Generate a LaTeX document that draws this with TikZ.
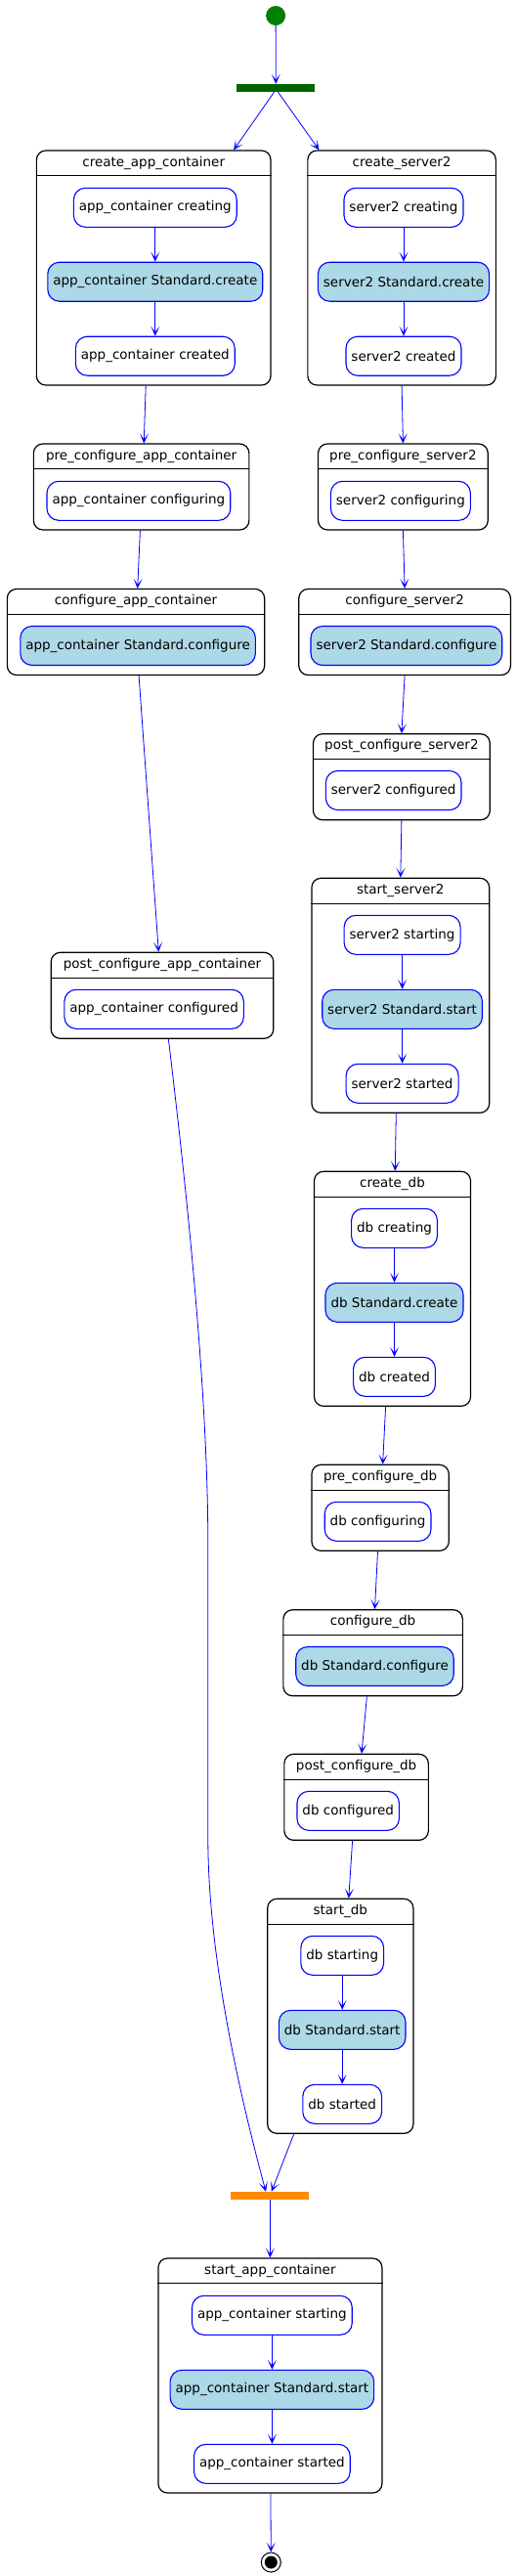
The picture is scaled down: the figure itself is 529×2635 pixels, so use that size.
\documentclass[tikz,border=0pt]{standalone}
\usepackage{fontspec}
\setmainfont{DejaVu Sans}
\usepackage{xcolor}
\usepackage{tikz}
\usetikzlibrary{arrows.meta}
\definecolor{actfill}{HTML}{ADD8E6}
\definecolor{flowblue}{HTML}{0000FF}
\definecolor{startgreen}{HTML}{008000}
\definecolor{forkgreen}{HTML}{006400}
\definecolor{joinorange}{HTML}{FF8C00}

\begin{document}
\begin{tikzpicture}[x=1pt,y=-1pt,>={Stealth[length=10pt,width=9pt,inset=6pt]},line join=round,
  font=\fontsize{13.5}{16}\selectfont,
  group/.style={draw=black,line width=1.2pt,rounded corners=9.5pt,fill=white,inner sep=0pt},
  grouptitle/.style={anchor=north,minimum height=26pt,inner sep=0pt},
  groupline/.style={draw=black,line width=1.2pt},
  act/.style={draw=flowblue,line width=1.1pt,rounded corners=12pt,fill=white,minimum height=40pt,inner xsep=5.5pt,inner ysep=0pt},
  stdact/.style={act,fill=actfill},
  flow/.style={->,draw=flowblue,line width=0.8pt},
  bar/.style={minimum width=80pt,minimum height=8pt,inner sep=0pt}]
  \useasboundingbox (0,0) rectangle (529,2635);
  \node[circle,fill=startgreen,minimum size=20pt,inner sep=0pt] (START) at (282.1,16) {};
  \node[bar,fill=forkgreen] (FORK) at (282.3,90) {};
  \node[bar,fill=joinorange] (JOIN) at (276.4,2246) {};
  \node[circle,draw=black,line width=1pt,fill=white,minimum size=20pt,inner sep=0pt] (STOP) at (277.3,2621) {};
  \node[circle,fill=black,minimum size=13pt,inner sep=0pt] (STOPIN) at (STOP) {};

  \node[group,minimum width=239.7pt,minimum height=240pt] (CAC) at (157.2,274) {};
  \node[group,minimum width=192.5pt,minimum height=240pt] (CS2) at (411.1,274) {};
  \node[group,minimum width=220.5pt,minimum height=88pt] (PCAC) at (144.6,498) {};
  \node[group,minimum width=173.7pt,minimum height=88pt] (PCS2) at (412.4,498) {};
  \node[group,minimum width=263.3pt,minimum height=88pt] (CFAC) at (139.0,646.5) {};
  \node[group,minimum width=216.7pt,minimum height=88pt] (CFS2) at (414.1,646.5) {};
  \node[group,minimum width=180.8pt,minimum height=88pt] (POCS2) at (410.9,794.7) {};
  \node[group,minimum width=227.6pt,minimum height=88pt] (POCAC) at (166.0,1018.3) {};
  \node[group,minimum width=181.8pt,minimum height=240pt] (SS2) at (409.8,1018.3) {};
  \node[group,minimum width=160pt,minimum height=240pt] (CDB) at (401.5,1318.3) {};
  \node[group,minimum width=140.4pt,minimum height=88pt] (PCDB) at (389.1,1542.3) {};
  \node[group,minimum width=183.5pt,minimum height=88pt] (CFDB) at (381.6,1690.7) {};
  \node[group,minimum width=147.5pt,minimum height=88pt] (PODB) at (364.6,1838.3) {};
  \node[group,minimum width=149.2pt,minimum height=240pt] (SDB) at (348.3,2062.3) {};
  \node[group,minimum width=229pt,minimum height=240pt] (SAC) at (276.4,2430) {};

  \node[grouptitle] (CACt) at (CAC.north) {create\_app\_container};
  \node[grouptitle] (CS2t) at (CS2.north) {create\_server2};
  \node[grouptitle] (PCACt) at (PCAC.north) {pre\_configure\_app\_container};
  \node[grouptitle] (PCS2t) at (PCS2.north) {pre\_configure\_server2};
  \node[grouptitle] (CFACt) at (CFAC.north) {configure\_app\_container};
  \node[grouptitle] (CFS2t) at (CFS2.north) {configure\_server2};
  \node[grouptitle] (POCS2t) at (POCS2.north) {post\_configure\_server2};
  \node[grouptitle] (POCACt) at (POCAC.north) {post\_configure\_app\_container};
  \node[grouptitle] (SS2t) at (SS2.north) {start\_server2};
  \node[grouptitle] (CDBt) at (CDB.north) {create\_db};
  \node[grouptitle] (PCDBt) at (PCDB.north) {pre\_configure\_db};
  \node[grouptitle] (CFDBt) at (CFDB.north) {configure\_db};
  \node[grouptitle] (PODBt) at (PODB.north) {post\_configure\_db};
  \node[grouptitle] (SDBt) at (SDB.north) {start\_db};
  \node[grouptitle] (SACt) at (SAC.north) {start\_app\_container};

  \draw[groupline] (CAC.west |- CACt.south) -- (CAC.east |- CACt.south);
  \draw[groupline] (CS2.west |- CS2t.south) -- (CS2.east |- CS2t.south);
  \draw[groupline] (PCAC.west |- PCACt.south) -- (PCAC.east |- PCACt.south);
  \draw[groupline] (PCS2.west |- PCS2t.south) -- (PCS2.east |- PCS2t.south);
  \draw[groupline] (CFAC.west |- CFACt.south) -- (CFAC.east |- CFACt.south);
  \draw[groupline] (CFS2.west |- CFS2t.south) -- (CFS2.east |- CFS2t.south);
  \draw[groupline] (POCS2.west |- POCS2t.south) -- (POCS2.east |- POCS2t.south);
  \draw[groupline] (POCAC.west |- POCACt.south) -- (POCAC.east |- POCACt.south);
  \draw[groupline] (SS2.west |- SS2t.south) -- (SS2.east |- SS2t.south);
  \draw[groupline] (CDB.west |- CDBt.south) -- (CDB.east |- CDBt.south);
  \draw[groupline] (PCDB.west |- PCDBt.south) -- (PCDB.east |- PCDBt.south);
  \draw[groupline] (CFDB.west |- CFDBt.south) -- (CFDB.east |- CFDBt.south);
  \draw[groupline] (PODB.west |- PODBt.south) -- (PODB.east |- PODBt.south);
  \draw[groupline] (SDB.west |- SDBt.south) -- (SDB.east |- SDBt.south);
  \draw[groupline] (SAC.west |- SACt.south) -- (SAC.east |- SACt.south);

  \node[act] (CAC1) at (158.8,212.3) {app\_container creating};
  \node[stdact] (CAC2) at (158.8,288.2) {app\_container Standard.create};
  \node[act] (CAC3) at (158.8,364.2) {app\_container created};
  \node[act] (CS21) at (413,212.3) {server2 creating};
  \node[stdact] (CS22) at (413,288.2) {server2 Standard.create};
  \node[act] (CS23) at (413,364.2) {server2 created};
  \node[act] (PCAC1) at (141.9,512.3) {app\_container configuring};
  \node[act] (PCS21) at (409.9,512.3) {server2 configuring};
  \node[stdact] (CFAC1) at (141.1,660.5) {app\_container Standard.configure};
  \node[stdact] (CFS21) at (415.9,660.5) {server2 Standard.configure};
  \node[act] (POCS21) at (402.7,808.5) {server2 configured};
  \node[act] (POCAC1) at (157.6,1032.3) {app\_container configured};
  \node[act] (SS21) at (411.6,956.3) {server2 starting};
  \node[stdact] (SS22) at (411.6,1032.3) {server2 Standard.start};
  \node[act] (SS23) at (411.6,1108.3) {server2 started};
  \node[act] (CDB1) at (403.5,1256.3) {db creating};
  \node[stdact] (CDB2) at (403.5,1332.3) {db Standard.create};
  \node[act] (CDB3) at (403.5,1408.3) {db created};
  \node[act] (PCDB1) at (386.6,1556.3) {db configuring};
  \node[stdact] (CFDB1) at (383.5,1704.5) {db Standard.configure};
  \node[act] (PODB1) at (356.2,1852.3) {db configured};
  \node[act] (SDB1) at (350.2,2000.3) {db starting};
  \node[stdact] (SDB2) at (350.2,2076.3) {db Standard.start};
  \node[act] (SDB3) at (350.2,2152.3) {db started};
  \node[act] (SAC1) at (278.4,2368.3) {app\_container starting};
  \node[stdact] (SAC2) at (278.4,2444.3) {app\_container Standard.start};
  \node[act] (SAC3) at (278.4,2520.3) {app\_container started};

  \draw[flow] (CAC1) -- (CAC2);
  \draw[flow] (CAC2) -- (CAC3);
  \draw[flow] (CS21) -- (CS22);
  \draw[flow] (CS22) -- (CS23);
  \draw[flow] (SS21) -- (SS22);
  \draw[flow] (SS22) -- (SS23);
  \draw[flow] (CDB1) -- (CDB2);
  \draw[flow] (CDB2) -- (CDB3);
  \draw[flow] (SDB1) -- (SDB2);
  \draw[flow] (SDB2) -- (SDB3);
  \draw[flow] (SAC1) -- (SAC2);
  \draw[flow] (SAC2) -- (SAC3);

  \draw[flow] (START) -- (FORK);
  \draw[flow] ([xshift=-1.8pt]FORK.south) -- ([xshift=81.9pt]CAC.north);
  \draw[flow] ([xshift=2.2pt]FORK.south) -- ([xshift=-84.6pt]CS2.north);
  \draw[flow] ([xshift=-8pt]CAC.south) -- ([xshift=2.6pt]PCAC.north);
  \draw[flow] ([xshift=-1.2pt]PCAC.south) -- ([xshift=1.7pt]CFAC.north);
  \draw[flow] ([xshift=3.1pt]CFAC.south) -- ([xshift=-3.7pt]POCAC.north);
  \draw[flow] ([xshift=6.4pt]POCAC.south) .. controls (190,1210) and (212.8,1420) .. (212.8,1580)
    -- (212.8,1880) .. controls (212.8,2010) and (250,2160) .. ([xshift=-4.4pt]JOIN.north);
  \draw[flow] (CS2.south) -- (PCS2.north);
  \draw[flow] (PCS2.south) -- (CFS2.north);
  \draw[flow] (CFS2.south) -- (POCS2.north);
  \draw[flow] (POCS2.south) -- (SS2.north);
  \draw[flow] ([xshift=-4.5pt]SS2.south) -- ([xshift=2.8pt]CDB.north);
  \draw[flow] ([xshift=-6.9pt]CDB.south) -- ([xshift=2.5pt]PCDB.north);
  \draw[flow] ([xshift=-2.6pt]PCDB.south) -- ([xshift=1.9pt]CFDB.north);
  \draw[flow] ([xshift=-6.2pt]CFDB.south) -- ([xshift=5.4pt]PODB.north);
  \draw[flow] ([xshift=-4pt]PODB.south) -- ([xshift=8.5pt]SDB.north);
  \draw[flow] ([xshift=-47.6pt]SDB.south) -- ([xshift=1.4pt]JOIN.north);
  \draw[flow] (JOIN) -- (SAC);
  \draw[flow] (SAC) -- (STOP);
\end{tikzpicture}
\end{document}
